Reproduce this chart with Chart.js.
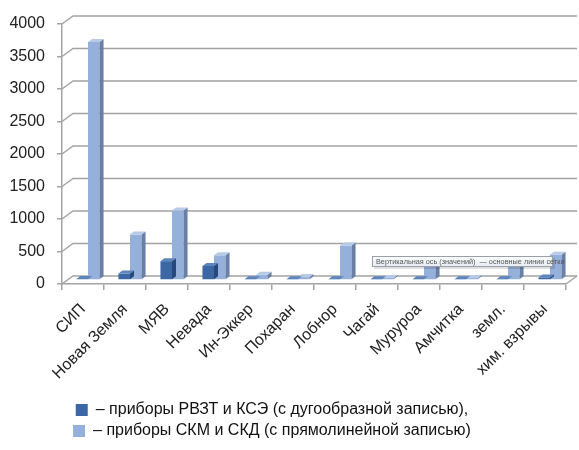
<!DOCTYPE html>
<html>
<head>
<meta charset="utf-8">
<script src="https://cdn.jsdelivr.net/npm/chart.js@4.4.1/dist/chart.umd.min.js"></script>
<style>
  html, body { margin: 0; padding: 0; background: #fff; }
  #c { display: block; }
</style>
</head>
<body>
<canvas id="c" width="579" height="450"></canvas>
<script>
// Test sites / sources of records
const categories = ['СИП', 'Новая Земля', 'МЯВ', 'Невада', 'Ин-Эккер', 'Похаран', 'Лобнор',
                    'Чагай', 'Муруроа', 'Амчитка', 'земл.', 'хим. взрывы'];
// Records by instruments with arc-shaped traces (РВЗТ, КСЭ)
const arcRecords = [15, 100, 290, 215, 10, 10, 10, 10, 10, 10, 10, 40];
// Records by instruments with straight-line traces (СКМ, СКД)
const lineRecords = [3660, 700, 1070, 380, 80, 45, 530, 30, 230, 30, 230, 390];
const yTicks = [0, 500, 1000, 1500, 2000, 2500, 3000, 3500, 4000];
const seriesNames = [
  '– приборы РВЗТ и КСЭ (с дугообразной записью),',
  '– приборы СКМ и СКД (с прямолинейной записью)'
];
const gridNote = 'Вертикальная ось (значений)  — основные линии сетки';

const FONT = "'Liberation Sans', Arial, sans-serif";
const GRID = '#a3a3a3';
const WALL = { x: 11, y: -8 };      // back wall offset
const SHIFT = { x: 5, y: -4 };      // bars stand mid-depth
const BAR3D = { x: 4, y: -3 };      // bar thickness
const faces = [
  { front: '#3b68a4', side: '#27487a', top: '#5d85bd' },
  { front: '#95b0da', side: '#6a7fa6', top: '#b7cae7' }
];

const wallPlugin = {
  id: 'wall',
  beforeDatasetsDraw(chart) {
    const { ctx, chartArea: a, scales: { y } } = chart;
    ctx.save();
    ctx.strokeStyle = GRID;
    ctx.lineWidth = 1.5;
    y.ticks.forEach(t => {
      const py = y.getPixelForValue(t.value);
      ctx.beginPath();
      ctx.moveTo(a.left, py);
      ctx.lineTo(a.left + WALL.x, py + WALL.y);
      ctx.lineTo(a.right + WALL.x, py + WALL.y);
      ctx.stroke();
    });
    ctx.beginPath();
    ctx.moveTo(a.right, a.bottom);
    ctx.lineTo(a.right + WALL.x, a.bottom + WALL.y);
    ctx.stroke();
    ctx.restore();
    ctx.save();
    ctx.translate(SHIFT.x, SHIFT.y);
  },
  afterDatasetDraw(chart, args) {
    const ctx = chart.ctx;
    const f = faces[args.index];
    args.meta.data.forEach(bar => {
      const { x, y, base, width } = bar.getProps(['x', 'y', 'base', 'width'], true);
      const l = x - width / 2, r = x + width / 2;
      ctx.fillStyle = f.side;
      ctx.beginPath();
      ctx.moveTo(r, y);
      ctx.lineTo(r + BAR3D.x, y + BAR3D.y);
      ctx.lineTo(r + BAR3D.x, base + BAR3D.y);
      ctx.lineTo(r, base);
      ctx.closePath();
      ctx.fill();
      ctx.fillStyle = f.top;
      ctx.beginPath();
      ctx.moveTo(l, y);
      ctx.lineTo(l + BAR3D.x, y + BAR3D.y);
      ctx.lineTo(r + BAR3D.x, y + BAR3D.y);
      ctx.lineTo(r, y);
      ctx.closePath();
      ctx.fill();
    });
  },
  afterDatasetsDraw(chart) {
    chart.ctx.restore();
  },
  afterLayout(chart) {
    // legend block sits a little left of centre
    chart.legend.left -= 11;
    chart.legend.right -= 11;
  },
  afterDraw(chart) {
    // hover hint over the grid lines
    const { ctx, chartArea: a } = chart;
    const bx = a.left + 310, by = a.bottom - 28, bw = 181, bh = 11;
    ctx.save();
    ctx.fillStyle = 'rgba(0,0,0,0.12)';
    ctx.fillRect(bx + 2, by + 2, bw, bh);
    const g = ctx.createLinearGradient(0, by, 0, by + bh);
    g.addColorStop(0, '#ffffff');
    g.addColorStop(1, '#e6ebf3');
    ctx.fillStyle = g;
    ctx.fillRect(bx, by, bw, bh);
    ctx.strokeStyle = '#9aa0a8';
    ctx.lineWidth = 1;
    ctx.strokeRect(bx + 0.5, by + 0.5, bw - 1, bh - 1);
    ctx.fillStyle = '#555';
    ctx.font = '7.3px ' + FONT;
    ctx.textBaseline = 'middle';
    ctx.fillText(gridNote, bx + 4, by + bh / 2 + 0.5);
    ctx.restore();
  }
};

new Chart(document.getElementById('c'), {
  type: 'bar',
  data: {
    labels: categories,
    datasets: [
      { label: seriesNames[0], data: arcRecords, backgroundColor: faces[0].front, borderWidth: 0, clip: false },
      { label: seriesNames[1], data: lineRecords, backgroundColor: faces[1].front, borderWidth: 0, clip: false }
    ]
  },
  options: {
    responsive: false,
    animation: false,
    devicePixelRatio: 1,
    categoryPercentage: 0.55,
    barPercentage: 1.0,
    layout: { padding: { top: 24, right: 13, bottom: 1, left: 0 } },
    plugins: {
      tooltip: { enabled: false },
      legend: {
        position: 'bottom',
        align: 'center',
        labels: {
          boxWidth: 12, boxHeight: 12, padding: 5,
          color: '#111',
          font: { family: FONT, size: 16 }
        }
      }
    },
    scales: {
      x: {
        grid: { display: true, offset: true, drawOnChartArea: false, drawTicks: true, tickLength: 6, color: GRID, lineWidth: 1.5 },
        border: { display: true, color: GRID, width: 1.5 },
        ticks: { color: '#222', font: { family: FONT, size: 16 }, minRotation: 45, maxRotation: 45, padding: 10, autoSkip: false },
        afterFit(scale) { scale.height = 113; }
      },
      y: {
        min: 0, max: 4000,
        afterBuildTicks(scale) { scale.ticks = yTicks.map(v => ({ value: v })); },
        grid: { display: true, drawOnChartArea: false, drawTicks: true, tickLength: 5, color: GRID, lineWidth: 1.5 },
        border: { display: true, color: GRID, width: 1.5 },
        ticks: { color: '#222', font: { family: FONT, size: 16 }, padding: 12, callback: v => String(v) },
        afterFit(scale) { scale.width = 62; }
      }
    }
  },
  plugins: [wallPlugin]
});
</script>
</body>
</html>
